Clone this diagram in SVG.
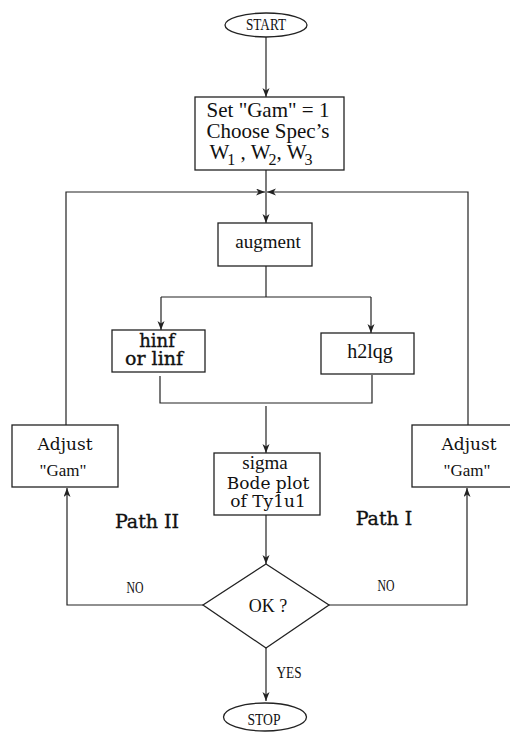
<svg xmlns="http://www.w3.org/2000/svg" width="510" height="734" viewBox="0 0 510 734">
  <style>
    .shape { fill: #fff; stroke: #222; stroke-width: 1.3; }
    .wire { fill: none; stroke: #222; stroke-width: 1.2; }
    .t { font-family: "Liberation Serif", "Times New Roman", serif; fill: #111; text-anchor: middle; }
    .c { font-family: "DejaVu Serif", "Liberation Serif", serif; fill: #111; text-anchor: middle; }
    .heavy { stroke: #111; stroke-width: 0.35; }
  </style>
  <defs>
    <marker id="arrow" markerUnits="userSpaceOnUse" markerWidth="10" markerHeight="8" refX="9" refY="3.5" orient="auto">
      <path d="M0,0 L9,3.5 L0,7 L2.5,3.5 z" fill="#222"/>
    </marker>
  </defs>

  <rect width="510" height="734" fill="#fff"/>

  <!-- connectors -->
  <g id="connectors" class="wire">
    <path d="M266,37 V97" marker-end="url(#arrow)"/>
    <path d="M266,170 V223" marker-end="url(#arrow)"/>
    <path d="M66,425 V192 H265" marker-end="url(#arrow)"/>
    <path d="M468,425 V192 H267" marker-end="url(#arrow)"/>
    <path d="M266,266 V297"/>
    <path d="M161,297 H371"/>
    <path d="M161,297 V330" marker-end="url(#arrow)"/>
    <path d="M371,297 V333" marker-end="url(#arrow)"/>
    <path d="M160,376 V403 H372 V375"/>
    <path d="M266,406 V453" marker-end="url(#arrow)"/>
    <path d="M266,515 V564" marker-end="url(#arrow)"/>
    <path d="M203,605 H67 V488" marker-end="url(#arrow)"/>
    <path d="M329,605 H467 V488" marker-end="url(#arrow)"/>
    <path d="M266,648 V701" marker-end="url(#arrow)"/>
  </g>

  <!-- start terminal -->
  <g id="start">
    <ellipse class="shape" cx="266" cy="25" rx="41" ry="12"/>
    <text class="t" x="266" y="30" font-size="17" textLength="40" lengthAdjust="spacingAndGlyphs">START</text>
  </g>

  <!-- initial settings -->
  <g id="init">
    <rect class="shape" x="195" y="97" width="149" height="73"/>
    <text class="t" x="268" y="117" font-size="21">Set "Gam" = 1</text>
    <text class="t" x="268" y="138" font-size="21">Choose Spec’s</text>
    <text class="t" x="261" y="159" font-size="21">W<tspan font-size="16" dy="6" dx="-2">1</tspan><tspan dy="-6"> , W</tspan><tspan font-size="16" dy="6" dx="-2">2</tspan><tspan dy="-6">, W</tspan><tspan font-size="16" dy="6" dx="-2">3</tspan></text>
  </g>

  <!-- augment -->
  <g id="augment">
    <rect class="shape" x="218" y="223" width="94" height="43"/>
    <text class="t" x="268" y="248" font-size="19">augment</text>
  </g>

  <!-- hinf / linf -->
  <g id="hinf">
    <rect class="shape" x="112" y="330" width="93" height="42"/>
    <text class="c heavy" x="157" y="347" font-size="18">hinf</text>
    <text class="c heavy" x="154" y="365" font-size="19">or linf</text>
  </g>

  <!-- h2lqg -->
  <g id="h2lqg">
    <rect class="shape" x="321" y="333" width="93" height="41"/>
    <text class="t" x="370" y="358" font-size="20">h2lqg</text>
  </g>

  <!-- sigma -->
  <g id="sigma">
    <rect class="shape" x="214" y="453" width="106" height="62"/>
    <text class="t" x="265" y="469" font-size="19">sigma</text>
    <text class="c" x="268" y="489" font-size="17">Bode plot</text>
    <text class="c" x="268" y="507" font-size="17">of Ty1u1</text>
  </g>

  <!-- decision -->
  <g id="ok">
    <polygon class="shape" points="266,564 329,605 266,648 203,605"/>
    <text class="t" x="268" y="612" font-size="18">OK ?</text>
  </g>

  <!-- adjust, left -->
  <g id="adjust-left">
    <rect class="shape" x="12" y="425" width="106" height="62"/>
    <text class="c" x="65" y="450" font-size="17">Adjust</text>
    <text class="t" x="63" y="476" font-size="17">"Gam"</text>
  </g>

  <!-- adjust, right -->
  <g id="adjust-right">
    <rect class="shape" x="412" y="425" width="110" height="62"/>
    <text class="c" x="469" y="450" font-size="17">Adjust</text>
    <text class="t" x="467" y="476" font-size="17">"Gam"</text>
  </g>

  <!-- stop terminal -->
  <g id="stop">
    <ellipse class="shape" cx="265" cy="717" rx="41.5" ry="14"/>
    <text class="t" x="264" y="725" font-size="17" textLength="33" lengthAdjust="spacingAndGlyphs">STOP</text>
  </g>

  <!-- path and branch labels -->
  <g id="labels">
    <text class="c heavy" x="147" y="528" font-size="19">Path II</text>
    <text class="c heavy" x="384" y="525" font-size="19">Path I</text>
    <text class="t" x="135" y="593" font-size="16" textLength="17" lengthAdjust="spacingAndGlyphs">NO</text>
    <text class="t" x="386" y="591" font-size="16" textLength="17" lengthAdjust="spacingAndGlyphs">NO</text>
    <text class="t" x="289" y="678" font-size="16" textLength="25" lengthAdjust="spacingAndGlyphs">YES</text>
  </g>
</svg>
